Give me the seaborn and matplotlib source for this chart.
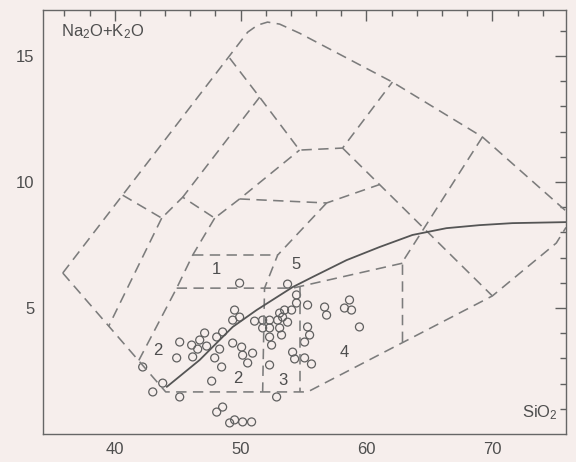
import numpy as np
import pandas as pd
import matplotlib
matplotlib.use("Agg")
import matplotlib.pyplot as plt
import seaborn as sns

sns.set_theme(style="white")
plt.rcParams['font.family'] = ['Liberation Sans', 'DejaVu Sans']
plt.rcParams['mathtext.fontset'] = 'custom'
plt.rcParams['mathtext.rm'] = 'Liberation Sans'
plt.rcParams['mathtext.it'] = 'Liberation Sans'

# ---------------- data ----------------
x_limits = (34.3, 75.85)
y_limits = (0.0, 16.83)
x_major_ticks = [40, 50, 60, 70]
y_major_ticks = [5, 10, 15]

# dashed field boundaries (SiO2, Na2O+K2O)
outer_upper = [(35.87, 6.39), (50.56, 15.95), (51.35, 16.23), (52.14, 16.35), (53.10, 16.27),
               (54.68, 15.91), (62.06, 13.97), (69.21, 11.79), (75.85, 8.85)]
outer_lower = [(35.87, 6.39), (44.05, 1.67), (55.32, 1.67), (70.0, 5.48), (75.08, 7.58), (75.85, 8.20)]
line_p = [(49.13, 14.92), (51.51, 13.37), (54.68, 11.27), (58.10, 11.35), (62.06, 13.97)]
line_p_down = [(58.10, 11.35), (70.0, 5.48)]
line_q = [(51.51, 13.37), (45.40, 9.40)]
zigzag = [(40.63, 9.48), (43.73, 8.57), (45.40, 9.40), (47.94, 8.57), (49.92, 9.33), (54.68, 11.27)]
line_y_down = [(43.73, 8.57), (39.52, 4.28)]
line_y2_down = [(47.94, 8.57), (46.19, 7.10), (44.92, 5.79), (41.90, 2.91)]
line_horiz = [(49.92, 9.33), (56.83, 9.17), (61.03, 9.90)]
line_mid = [(56.83, 9.17), (52.94, 7.10), (51.90, 5.79), (51.75, 1.67)]
box_top = [(46.19, 7.10), (52.94, 7.10)]
box_bottom = [(44.92, 5.79), (54.13, 5.79), (62.86, 6.78)]
right_diag = [(69.21, 11.79), (62.86, 6.83), (62.86, 3.63)]
vertical_55 = [(54.68, 5.85), (54.68, 1.67)]

# solid alkaline / subalkaline divide
divide_sio2 = [44.13, 46.75, 49.37, 51.27, 54.13, 55.71, 58.41, 61.03, 63.65, 66.35, 68.97, 71.59, 75.85]
divide_alk = [1.87, 2.94, 4.25, 4.92, 5.83, 6.23, 6.90, 7.42, 7.90, 8.17, 8.29, 8.37, 8.41]

# samples
sample_sio2 = [42.22, 43.02, 43.81, 45.16, 44.92, 45.16, 46.11, 46.19, 46.75, 47.14, 46.59, 47.30,
               48.10, 48.57, 48.33, 47.94, 48.49, 47.70, 48.10, 48.57, 49.13, 49.52, 50.16, 50.87,
               49.52, 49.37, 49.92, 49.37, 50.08, 50.16, 50.95, 50.56, 49.92, 52.86, 52.30, 51.11,
               51.75, 52.30, 51.75, 52.30, 52.30, 52.46, 52.94, 53.10, 53.25, 53.10, 53.49, 54.05,
               54.44, 53.73, 54.44, 55.32, 56.67, 56.83, 58.25, 58.65, 58.81, 59.44, 55.32, 55.48,
               55.08, 54.13, 54.29, 55.08, 55.63, 53.33, 53.73]
sample_alk = [2.66, 1.67, 2.02, 1.47, 3.02, 3.65, 3.53, 3.06, 3.73, 4.01, 3.37, 3.49,
              3.85, 4.05, 3.37, 3.02, 2.66, 2.10, 0.87, 1.07, 0.44, 0.56, 0.48, 0.48,
              4.92, 4.52, 4.64, 3.61, 3.45, 3.13, 3.21, 2.82, 5.99, 1.47, 2.74, 4.48,
              4.52, 4.52, 4.21, 4.21, 3.85, 3.53, 4.52, 4.21, 3.93, 4.80, 4.92, 4.92,
              5.20, 5.95, 5.52, 5.12, 5.04, 4.72, 5.00, 5.32, 4.92, 4.25, 4.25, 3.93,
              3.65, 3.25, 2.98, 3.02, 2.78, 4.64, 4.44]

field_labels = ['1', '5', '2', '2', '3', '4']
field_label_x = [48.10, 54.44, 43.41, 49.76, 53.33, 58.25]
field_label_y = [6.51, 6.71, 3.33, 2.22, 2.14, 3.25]

# ---------------- build tables ----------------
segments = [outer_upper, outer_lower, line_p, line_p_down, line_q, zigzag, line_y_down,
            line_y2_down, line_horiz, line_mid, box_top, box_bottom, right_diag, vertical_55]
rows = []
for i, seg in enumerate(segments):
    for j, (sx, sy) in enumerate(seg):
        rows.append({'seg': i, 'order': j, 'SiO2': sx, 'alk': sy})
seg_df = pd.DataFrame(rows)
divide_df = pd.DataFrame({'SiO2': divide_sio2, 'alk': divide_alk})
sample_df = pd.DataFrame({'SiO2': sample_sio2, 'alk': sample_alk})

# ---------------- plot ----------------
bg = '#f6eeec'
ink = '#4e4e4e'
fig = plt.figure(figsize=(5.76, 4.62), dpi=100, facecolor=bg)
ax = fig.add_axes([43 / 576, 1 - 434 / 462, (566 - 43) / 576, (434 - 10) / 462])
ax.set_facecolor(bg)

sns.lineplot(data=seg_df, x='SiO2', y='alk', units='seg', estimator=None, sort=False,
             color='#7c7c7c', lw=1.15, linestyle=(0, (6.5, 4)), ax=ax, legend=False)
sns.lineplot(data=divide_df, x='SiO2', y='alk', sort=False, estimator=None,
             color='#555555', lw=1.3, ax=ax, legend=False)
sns.scatterplot(data=sample_df, x='SiO2', y='alk', marker='o', s=33,
                facecolor='none', edgecolor='#606060', linewidth=0.9, ax=ax, legend=False)

for lab, lx, ly in zip(field_labels, field_label_x, field_label_y):
    ax.text(lx, ly, lab, ha='center', va='center', fontsize=12, color=ink)

ax.text(35.71, 15.99, 'Na$_2$O+K$_2$O', ha='left', va='center', fontsize=12, color=ink)
ax.text(75.2, 0.83, 'SiO$_2$', ha='right', va='center', fontsize=12, color=ink)

ax.set_xlim(*x_limits)
ax.set_ylim(*y_limits)
ax.set_xticks(x_major_ticks)
ax.set_yticks(y_major_ticks)
ax.set_xticks(np.arange(36, 76, 2), minor=True)
ax.set_yticks(np.arange(1, 17, 1), minor=True)
ax.tick_params(which='both', direction='in', top=True, right=True, color='#606060',
               width=1.0, labelsize=12, labelcolor=ink)
ax.tick_params(which='major', length=8, pad=6)
ax.tick_params(which='minor', length=4)
ax.set_xlabel('')
ax.set_ylabel('')
for sp in ax.spines.values():
    sp.set_color('#666666')
    sp.set_linewidth(1.0)

fig.savefig('out.png', dpi=100, facecolor=bg)
